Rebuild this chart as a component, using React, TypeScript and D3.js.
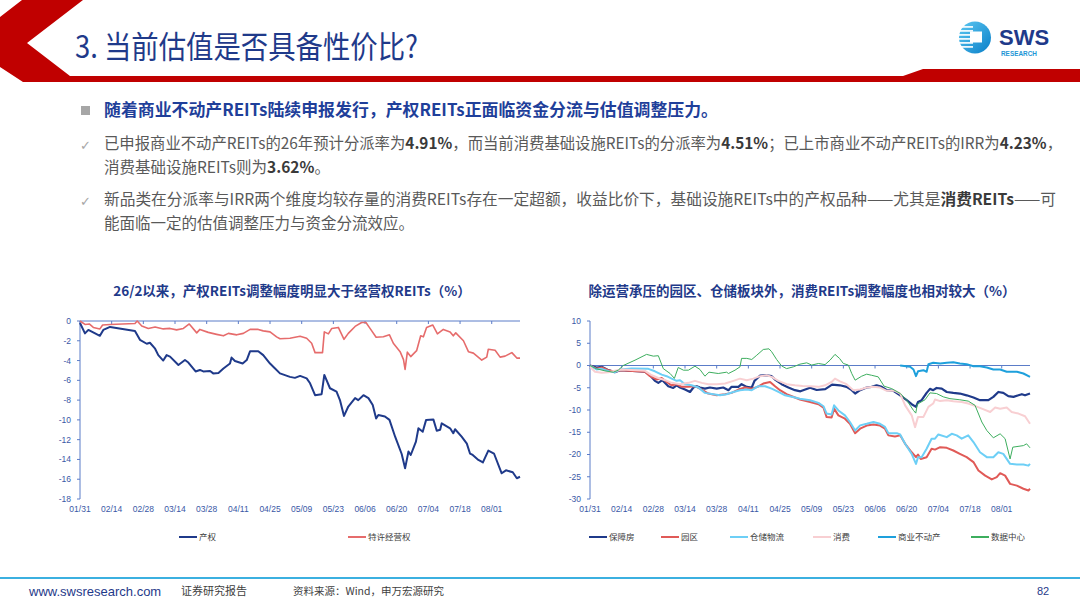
import React, { useEffect } from "react";
import * as d3 from "d3";

type Pt = [number, number]; // [days since 01/31, %]

const baseDate = d3.timeParse("%Y/%m/%d")("2026/01/31") as Date;
const lastDay = 194.5;
const dateTicks = ["01/31", "02/14", "02/28", "03/14", "03/28", "04/11", "04/25", "05/09", "05/23", "06/06", "06/20", "07/04", "07/18", "08/01"];

const leftYTicks = [0, -2, -4, -6, -8, -10, -12, -14, -16, -18];
const rightYTicks = [10, 5, 0, -5, -10, -15, -20, -25, -30];

const leftNames = ["产权", "特许经营权"];
const rightNames = ["保障房", "园区", "仓储物流", "消费", "商业不动产", "数据中心"];

// 左图：产权 / 特许经营权
const chanquan: Pt[] = [
  [0, -0.2], [2.2, -1.25], [3.7, -0.9], [8.8, -1.5], [10.3, -0.9], [13.3, -0.6], [24.3, -1.0], [26.5, -1.9],
  [29.5, -2.3], [30.9, -2.2], [33.2, -2.8], [34.6, -3.45], [36.8, -4.0], [38.3, -3.45], [39.8, -3.6], [43.5, -4.45],
  [46.4, -3.95], [47.9, -4.2], [51.1, -5.1], [53, -4.95], [54.5, -5.1], [57.5, -5.05], [58.9, -5.3], [61.2, -5.25],
  [63.4, -4.8], [66.3, -4.3], [67, -3.7], [68.5, -4.05], [71.9, -4.3], [73.7, -3.95], [75.2, -3.05], [78.8, -3.05],
  [81, -3.45], [84, -4.3], [86, -4.75], [88.4, -5.3], [92.8, -5.65], [95, -5.75], [97.3, -5.55], [100.2, -5.8],
  [101.7, -6.3], [103.9, -7.5], [106.8, -7.4], [108, -5.45], [110.5, -6.8], [113.4, -7.15], [114.9, -8.0],
  [116.7, -9.6], [118.6, -8.65], [121.6, -7.8], [123, -8.0], [125.3, -7.5], [127.5, -7.8], [129.4, -8.5],
  [130.9, -9.85], [131.9, -9.5], [134.8, -9.65], [136.8, -10.0], [139.3, -11.7], [142.2, -13.45], [143.7, -14.9],
  [145.2, -13.2], [146.2, -13.55], [148.5, -12.2], [149.6, -10.85], [151.5, -11.2], [153, -10.0], [156.2, -9.95],
  [157.7, -11.1], [159.2, -11.0], [159.9, -10.35], [163.6, -10.85], [165, -11.35], [165.8, -10.95], [168.7, -11.7],
  [171, -12.4], [172.4, -13.4], [173.6, -13.55], [176.1, -14.05], [178.1, -14.3], [180.5, -13.1], [183, -13.4],
  [186.4, -15.4], [188.3, -15.1], [191.3, -15.3], [193.1, -15.9], [194.5, -15.75],
];

const texujingying: Pt[] = [
  [0, 0], [2.2, -0.35], [4.1, -0.3], [5.9, -0.65], [8.8, -0.8], [10, -0.4], [13.3, -0.35], [24.3, -0.25], [25.3, 0],
  [27.3, -0.5], [30.2, -0.75], [33.2, -0.6], [36.8, -0.8], [39.8, -0.75], [42.7, -0.9], [45.7, -0.75], [48.3, -0.3],
  [51.6, -1.2], [53, -0.85], [56.7, -1.15], [60.4, -1.35], [63.4, -1.5], [65.6, -1.25], [69.3, -1.4], [72.2, -1.25],
  [75.2, -0.85], [78.8, -0.85], [81, -1.0], [84, -1.1], [86.9, -1.6], [88.4, -1.8], [92.8, -1.75], [97.3, -1.55],
  [100.2, -1.75], [102.4, -2.25], [103.9, -3.2], [107.2, -3.2], [108, -1.1], [109.8, -1.3], [111.3, -0.75],
  [114.2, -0.65], [116.7, -1.85], [118.6, -1.25], [121.6, -0.55], [124.5, -0.15], [126.4, -0.15], [128.2, -0.75],
  [130.9, -1.65], [134.1, -1.6], [136.8, -1.4], [138.5, -2.25], [141.5, -3.1], [143, -3.9], [143.7, -4.9],
  [144.7, -3.15], [146.2, -3.6], [148.8, -3.0], [150.6, -1.5], [151.8, -1.6], [153.2, -0.65], [155.9, -0.4],
  [158, -1.3], [160.6, -0.85], [163.6, -1.1], [165, -1.5], [166.1, -1.2], [169.5, -2.0], [171.7, -3.1],
  [173.9, -3.25], [177.6, -3.95], [179.8, -3.65], [180.5, -2.85], [183.5, -2.95], [185.7, -3.65], [187.9, -3.55],
  [190.9, -3.2], [193.1, -3.75], [194.5, -3.75],
];

// 右图：各板块
const baozhangfang: Pt[] = [
  [0, 0], [2.9, -0.45], [5.2, -0.3], [8.1, -1.05], [11, -1.5], [13.3, -1.05], [24.3, -1.4], [26.5, -2.2],
  [28.7, -3.45], [30.2, -3.9], [32, -3.3], [34.6, -4.65], [36.8, -5.05], [38.3, -4.45], [39.8, -4.95], [42, -5.4],
  [44.2, -5.95], [45.7, -4.95], [47.2, -4.65], [48.6, -4.95], [50.8, -5.2], [53, -4.95], [56, -5.2], [58.9, -4.95],
  [61.2, -5.55], [62.6, -4.8], [65.6, -4.8], [67, -4.2], [69.3, -4.8], [71.5, -4.95], [72.7, -3.45], [75.2, -2.25],
  [78.1, -2.2], [80.3, -2.4], [82.1, -3.3], [84.7, -4.2], [87.7, -4.95], [90.6, -5.55], [93, -5.8], [97.3, -5.0],
  [100.2, -5.5], [104, -5.3], [107, -4.3], [110.5, -4.45], [113.4, -4.8], [115.7, -5.55], [117.2, -6.3],
  [119.4, -5.55], [122.3, -4.95], [124.5, -4.8], [126.7, -4.45], [129, -4.8], [131.2, -5.55], [134.1, -5.7],
  [137.1, -6.7], [140, -7.8], [142.2, -8.7], [144.1, -9.3], [145, -8.2], [146.6, -7.8], [148.8, -6.15],
  [150.3, -5.25], [151.7, -5.55], [153.2, -5.05], [155.5, -5.2], [157.7, -5.95], [160.6, -6.15], [163.5, -6.3],
  [166.5, -6.7], [169.5, -7.2], [172.4, -7.8], [176.1, -7.8], [178.3, -7.05], [180.5, -5.95], [182.7, -6.15],
  [184.9, -6.9], [187.2, -7.05], [189.4, -6.7], [190.9, -6.45], [192.3, -6.7], [194.5, -6.3],
];

const yuanqu: Pt[] = [
  [0, 0], [2.9, -0.75], [5.2, -0.45], [8.1, -1.05], [11, -1.4], [13.3, -1.05], [24.3, -1.4], [26.5, -2.4],
  [29.5, -3.15], [31.7, -2.8], [33.9, -3.7], [36.1, -4.45], [38.3, -4.2], [40.5, -4.8], [43.5, -4.8], [46.4, -4.65],
  [49.4, -5.4], [52.3, -6.3], [56, -6.7], [59.7, -6.45], [62.6, -6.15], [65.6, -5.4], [68.5, -4.95], [71.5, -5.2],
  [74.1, -4.8], [76.6, -4.05], [79.6, -3.7], [81.8, -4.65], [84, -5.55], [86.9, -6.45], [90.6, -7.2], [92.8, -7.65],
  [97.3, -8.2], [101, -8.7], [103.2, -9.45], [104.6, -11.6], [106.8, -11.7], [107.9, -9.7], [109.8, -11.2],
  [112.7, -11.95], [114.9, -13.1], [117.2, -15.2], [119.4, -14.2], [122.3, -13.5], [125.3, -13.25], [128.2, -13.5],
  [130.4, -14.2], [131.9, -15.7], [134.8, -15.95], [137.1, -15.7], [139.3, -17.6], [142.2, -19.5], [144.1, -20.6],
  [145, -20], [146.2, -21], [148.8, -20.6], [151, -18.7], [152.5, -18.9], [154.8, -18.35], [157.7, -18.5],
  [160.6, -19.1], [163.5, -19.85], [166.5, -20.6], [169.5, -21.7], [171.7, -23.6], [174.7, -24.75], [177.6, -25.6],
  [179.8, -25.1], [181.3, -24.2], [183.5, -24.75], [185.7, -26.6], [188.7, -27], [191.6, -27.7], [193.8, -28.1],
  [194.5, -27.7],
];

const cangchuwuliu: Pt[] = [
  [0, 0], [2.9, -0.9], [5.2, -0.75], [8.8, -1.4], [11, -1.5], [13.3, -0.9], [18.4, -0.7], [25.8, -0.75],
  [28.7, -1.3], [31.7, -2.05], [33.9, -2.4], [36.1, -2.95], [38.3, -3.45], [39.8, -3.3], [42, -4.2], [44.9, -4.45],
  [47.9, -4.95], [50.8, -6.15], [54.5, -6.45], [57.5, -6.7], [60.4, -6.45], [63.4, -5.95], [66.3, -5.55],
  [69.3, -5.4], [71.5, -5.55], [74.4, -4.65], [77.4, -4.65], [80.3, -5.2], [83.3, -5.95], [86.2, -6.7],
  [90.6, -7.2], [92.8, -7.45], [97.3, -7.8], [101, -8.4], [103.2, -9.15], [104.6, -10.8], [106.8, -11],
  [107.9, -8.95], [109.8, -10.1], [112.7, -11.2], [114.9, -12.7], [117.2, -14.6], [119.4, -13.45], [122.3, -13.1],
  [125.3, -12.7], [128.2, -13.1], [130.4, -13.8], [131.9, -15.2], [135.6, -15.2], [137.1, -15.5], [139.3, -17.6],
  [142.2, -19.85], [144.1, -22.1], [145, -20.6], [146.6, -20.6], [148.8, -18.7], [151, -16.45], [152.5, -16.45],
  [154, -15.5], [157.7, -16.1], [159.9, -15.35], [162.1, -15.7], [164.3, -16.45], [167.2, -15.7], [169.5, -17.2],
  [172.4, -19.5], [175.4, -20.6], [178.3, -20.6], [180.5, -19.5], [182.7, -19.85], [185.7, -22.1], [188.7, -22.25],
  [191.6, -22.25], [193.8, -22.5], [194.5, -22.1],
];

const xiaofei: Pt[] = [
  [0, -0.3], [2.2, -1.4], [5.2, -1.65], [8.1, -1.5], [11, -1.2], [14, -0.9], [24.3, -1.2], [27.3, -2.2],
  [30.2, -2.8], [33.2, -3.3], [36.1, -3.9], [39.8, -4.2], [43.5, -3.9], [46.4, -3.45], [49.4, -3.9], [52.3, -4.2],
  [56, -4.2], [59.7, -4.05], [63.4, -3.45], [66.3, -2.95], [69.3, -3.3], [72.2, -2.95], [75.2, -2.4], [78.1, -2.2],
  [80.3, -2.55], [83.3, -3.45], [86.9, -4.2], [90.6, -4.45], [94, -4.6], [97.3, -4.65], [101, -4.8], [103.9, -4.45],
  [106.8, -3.7], [108.3, -2.95], [110.5, -3.55], [113.4, -4.2], [116.4, -5.55], [119.4, -5.4], [122.3, -4.95],
  [125.3, -4.8], [128.2, -4.95], [131.2, -5.7], [134.8, -5.7], [137.1, -6.3], [139.3, -8.95], [142.2, -11.2],
  [143.7, -13.85], [145, -11.55], [147.4, -11.55], [149.6, -9.3], [151.7, -8.55], [152.5, -7.65], [154.8, -8],
  [157.7, -7.8], [160.6, -8.05], [164.3, -8.2], [167.2, -8.55], [169.5, -8.95], [173.2, -9.7], [176.9, -10.45],
  [179.1, -9.45], [181.3, -9.7], [184.2, -9.45], [186.4, -10.45], [189.4, -10.8], [192.3, -11.4], [194.5, -13.1],
];

const shangyebudongchan: Pt[] = [
  [137.1, 0], [141.5, -0.3], [143, -0.9], [144.1, -2.4], [145, -1.3], [147.4, -1.05], [148.8, -1.4], [149.6, 0.3],
  [151.7, 0.6], [154.8, 0.45], [157.7, 0.6], [160.6, 0.75], [163.5, 0.45], [166.5, 0.3], [169.5, -0.15],
  [172.4, -0.15], [175.4, -0.45], [178.3, -0.9], [181.3, -0.9], [184.2, -1.4], [188.7, -1.4], [191.6, -1.8],
  [194.5, -2.55],
];

const shujuzhongxin: Pt[] = [
  [0, 0], [2.9, -0.75], [6.6, -1.2], [10.3, -1.5], [12.5, -1.05], [14.7, 0], [19.9, 1.2], [25, 2.5], [28, 2.1],
  [30.2, 2.2], [32.4, -0.7], [35.4, -1.8], [37.3, -2.9], [39, -0.45], [41.3, -1.05], [43.5, -1.05], [46.4, -0.15],
  [48.6, -0.9], [50.8, -2.4], [52.6, -1.5], [56.7, -1.8], [60.4, -1.5], [61.2, -1.8], [64.1, -1.05], [66.3, -0.3],
  [67, 1.6], [69.3, 1.6], [71.5, 1.35], [73.7, 2.3], [76.6, 3.6], [79.1, 3.75], [80.3, 3.1], [82.5, 1.35],
  [84.7, -0.1], [86.9, -0.7], [89.9, -0.3], [92.8, 0.3], [95.8, 0.6], [98, 0.1], [101, 0.45], [103.9, 0.2],
  [106.1, 1.2], [108.3, 2.5], [110.3, 1.6], [112, 0.45], [114.2, 0.1], [115.7, -1.8], [117.2, -3.3], [120.1, -2.4],
  [122.3, -1.95], [124.5, -2.2], [127.4, -2.55], [130, -4.65], [133.4, -5.2], [137.2, -6.3], [140, -7.8],
  [143, -10.1], [144, -10.7], [144.7, -8.7], [148.1, -7.7], [150.3, -6.15], [153.2, -6.3], [156.2, -7.05],
  [159.1, -7.45], [163.5, -7.7], [167.2, -8.0], [170.2, -8.95], [173.2, -12.7], [175.4, -14.6], [178.3, -16.25],
  [181.3, -15.35], [183.5, -16.45], [185.7, -21], [186.9, -18.35], [191.6, -18], [193, -17.6], [194.5, -18.5],
];

const NAVY = "#1f3a8a";
const AXIS = "#5b7cc8";
const TICK_TXT = "#3a58a6";
const CJK = "'Noto Sans CJK SC', 'Noto Sans', sans-serif";
const LAT = "'Liberation Sans', Arial, sans-serif";

const toDate = (d: number) => new Date(baseDate.getTime() + d * 864e5);
const tickDates = dateTicks.map((t) => d3.timeParse("%Y/%m/%d")("2026/" + t) as Date);

interface Series {
  name: string;
  data: Pt[];
  color: string;
  width: number;
}

interface ChartProps {
  x0: number;
  title: string;
  yDomain: [number, number];
  yTicks: number[];
  series: Series[];
  legendX: number[];
}

const LineChart: React.FC<ChartProps> = ({ x0, title, yDomain, yTicks, series, legendX }) => {
  const plotW = 440;
  const x = d3.scaleTime().domain([baseDate, toDate(lastDay)]).range([x0, x0 + plotW]);
  const y = d3.scaleLinear().domain(yDomain).range([499, 321]);
  const line = d3
    .line<Pt>()
    .x((d) => x(toDate(d[0])))
    .y((d) => y(d[1]));
  const y0 = y(0);

  return (
    <g>
      <text x={x0 + plotW / 2 - 8} y={296} textAnchor="middle" fontFamily={CJK} fontSize={13.5} fontWeight={700} fill={NAVY}>
        {title}
      </text>
      {/* y axis */}
      <line x1={x0} x2={x0} y1={y(yDomain[1])} y2={y(yDomain[0])} stroke={AXIS} strokeWidth={1} />
      {yTicks.map((t) => (
        <g key={t}>
          <line x1={x0 - 3} x2={x0} y1={y(t)} y2={y(t)} stroke={AXIS} />
          <text x={x0 - 9} y={y(t)} dy="0.35em" textAnchor="end" fontFamily={LAT} fontSize={8.5} fill={TICK_TXT}>
            {t}
          </text>
        </g>
      ))}
      {/* x axis on zero line */}
      <line x1={x0} x2={x0 + plotW} y1={y0} y2={y0} stroke={AXIS} strokeWidth={1} />
      {tickDates.map((d, i) => (
        <g key={i}>
          <line x1={x(d)} x2={x(d)} y1={y0} y2={y0 + 3} stroke={AXIS} />
          <text x={x(d)} y={512} textAnchor="middle" fontFamily={LAT} fontSize={8.5} fill={TICK_TXT}>
            {dateTicks[i]}
          </text>
        </g>
      ))}
      {series.map((s) => (
        <path key={s.name} d={line(s.data) || ""} fill="none" stroke={s.color} strokeWidth={s.width} strokeLinejoin="round" />
      ))}
      {/* legend */}
      {series.map((s, i) => (
        <g key={"lg" + s.name}>
          <line x1={legendX[i]} x2={legendX[i] + 18} y1={537} y2={537} stroke={s.color} strokeWidth={2} />
          <text x={legendX[i] + 20} y={540} fontFamily={CJK} fontSize={8.5} fill="#404040">
            {s.name}
          </text>
        </g>
      ))}
    </g>
  );
};

const App: React.FC = () => {
  useEffect(() => {
    document.body.style.margin = "0";
  }, []);

  const leftSeries: Series[] = [
    { name: leftNames[0], data: chanquan, color: NAVY, width: 2 },
    { name: leftNames[1], data: texujingying, color: "#e66c6c", width: 1.6 },
  ];
  const rightSeries: Series[] = [
    { name: rightNames[0], data: baozhangfang, color: NAVY, width: 2.2 },
    { name: rightNames[1], data: yuanqu, color: "#e05a57", width: 2 },
    { name: rightNames[2], data: cangchuwuliu, color: "#6dcff6", width: 2 },
    { name: rightNames[3], data: xiaofei, color: "#f8cfd2", width: 2 },
    { name: rightNames[4], data: shangyebudongchan, color: "#1ea0dc", width: 2 },
    { name: rightNames[5], data: shujuzhongxin, color: "#3dae5e", width: 1 },
  ];

  const body = { fontFamily: CJK, fontSize: 15.5, fill: "#595959" } as const;
  const strong = { fontWeight: 700, fill: "#3a3a3a" } as const;

  return (
    <svg width={1080} height={608} viewBox="0 0 1080 608" style={{ display: "block", position: "absolute", left: 0, top: 0, background: "#fff" }}>
      <defs>
        <linearGradient id="logoGrad" x1="0" y1="0" x2="1" y2="1">
          <stop offset="0" stopColor="#5cc8f2" />
          <stop offset="1" stopColor="#0a7fc8" />
        </linearGradient>
      </defs>
      <rect width={1080} height={608} fill="#fff" />

      {/* header band */}
      <polygon
        points="22,0 83,0 27,43 70,76 903,76 923,69 1080,69 1080,82 23,82 0,67 0,17"
        fill="#c00000"
      />
      <text x={75} y={58} fontFamily={CJK} fontSize={31} fontWeight={400} fill={NAVY} textLength={343} lengthAdjust="spacingAndGlyphs">
        3. 当前估值是否具备性价比?
      </text>

      {/* logo */}
      <g>
        <circle cx={975} cy={37.5} r={16} fill="url(#logoGrad)" />
        {[0, 1, 2, 3, 4, 5].map((i) => (
          <rect key={i} x={958} y={26 + i * 4} width={15} height={1.8} fill="#fff" opacity={0.9} />
        ))}
        <rect x={970} y={31.5} width={12} height={11} fill="#fff" />
        <text x={999} y={45} fontFamily={LAT} fontSize={22} fontWeight={700} fill={NAVY}>SWS</text>
        <text x={1001} y={55.5} fontFamily={LAT} fontSize={6.4} fontWeight={700} fill="#1e96d6">RESEARCH</text>
      </g>

      {/* bullet text */}
      <rect x={81} y={106} width={9} height={9} fill="#a6a6a6" />
      <text x={104} y={116} fontFamily={CJK} fontSize={16.5} fontWeight={700} fill="#1f3f9a" textLength={614} lengthAdjust="spacingAndGlyphs">
        随着商业不动产REITs陆续申报发行，产权REITs正面临资金分流与估值调整压力。
      </text>
      <text x={80} y={150} fontFamily="'DejaVu Sans', sans-serif" fontSize={13} fill="#a6a6a6">✓</text>
      <text x={104} y={149} {...body} textLength={958} lengthAdjust="spacingAndGlyphs">
        已申报商业不动产REITs的26年预计分派率为<tspan {...strong}>4.91%</tspan>，而当前消费基础设施REITs的分派率为
        <tspan {...strong}>4.51%</tspan>；已上市商业不动产REITs的IRR为<tspan {...strong}>4.23%</tspan>，
      </text>
      <text x={104} y={173} {...body}>
        消费基础设施REITs则为<tspan {...strong}>3.62%</tspan>。
      </text>
      <text x={80} y={206} fontFamily="'DejaVu Sans', sans-serif" fontSize={13} fill="#a6a6a6">✓</text>
      <text x={104} y={205} {...body} textLength={952} lengthAdjust="spacingAndGlyphs">
        新品类在分派率与IRR两个维度均较存量的消费REITs存在一定超额，收益比价下，基础设施REITs中的产权品种——尤其是
        <tspan {...strong}>消费REITs</tspan>——可
      </text>
      <text x={104} y={229} {...body}>
        能面临一定的估值调整压力与资金分流效应。
      </text>

      <LineChart
        x0={80}
        title="26/2以来，产权REITs调整幅度明显大于经营权REITs（%）"
        yDomain={[-18, 0]}
        yTicks={leftYTicks}
        series={leftSeries}
        legendX={[179, 348]}
      />
      <LineChart
        x0={590}
        title="除运营承压的园区、仓储板块外，消费REITs调整幅度也相对较大（%）"
        yDomain={[-30, 10]}
        yTicks={rightYTicks}
        series={rightSeries}
        legendX={[589, 661, 730, 813, 878, 971]}
      />

      {/* footer */}
      <line x1={0} x2={1080} y1={578} y2={578} stroke="#3bb0e0" strokeWidth={2} />
      <text x={29} y={596} fontFamily={LAT} fontSize={13} fill={NAVY}>www.swsresearch.com</text>
      <text x={181} y={595} fontFamily={CJK} fontSize={11} fill="#404040">证券研究报告</text>
      <text x={293} y={595} fontFamily={CJK} fontSize={10.5} fill="#404040">资料来源：Wind，申万宏源研究</text>
      <text x={1037} y={595} fontFamily={LAT} fontSize={11} fill={NAVY}>82</text>
    </svg>
  );
};

export default App;
